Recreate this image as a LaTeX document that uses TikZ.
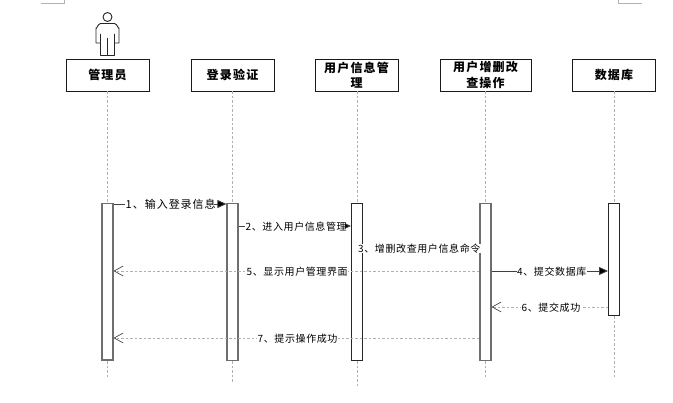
\documentclass[tikz,border=0pt]{standalone}
\usepackage{fontspec}
\setmainfont{Noto Sans CJK SC}[LetterSpace=6]
\usetikzlibrary{arrows.meta}
\definecolor{lifeclr}{HTML}{B0B0B0}
\definecolor{boxclr}{HTML}{1A1A1A}
\definecolor{actgrey}{HTML}{6E6E6E}
\tikzset{
  x=1pt,y=-1pt,
  headbox/.style={draw=boxclr,line width=.9pt,fill=white,minimum width=83pt,minimum height=32pt,inner sep=0pt,align=center,font=\fontsize{12}{15.5}\selectfont\bfseries\addfontfeature{LetterSpace=10}},
  actbox/.style={draw=actgrey,line width=1.2pt,fill=white,minimum width=11pt,inner sep=0pt},
  actdark/.style={actbox,draw=black!85,line width=1pt},
  lifeline/.style={draw=lifeclr,line width=.7pt,dash pattern=on 2.5pt off 2pt},
  syncmsg/.style={draw=black!75,line width=.8pt,-{Triangle[length=9pt,width=8pt,fill=black]}},
  retmsg/.style={draw=lifeclr,line width=.8pt,dash pattern=on 2.5pt off 2pt,-{Straight Barb[length=9pt,width=10pt,black!80,line width=.6pt]}},
  msglabel/.style={fill=white,inner xsep=.5pt,inner ysep=0pt,font=\fontsize{10}{12}\selectfont,text=black},
  pagemark/.style={draw=black!30,line width=.7pt},
  actorline/.style={draw=black!85,line width=.9pt,line join=round},
}
\begin{document}
\begin{tikzpicture}
\useasboundingbox (0,0) rectangle (673,403);
% page corner marks
\draw[pagemark] (41,3.5) -- (64.5,3.5) -- (64.5,0);
\draw[pagemark] (618.5,0) -- (618.5,3.5) -- (642,3.5);
% header boxes
\node[headbox] (hA) at (107.5,75) {管理员};
\node[headbox] (hB) at (232.5,75) {登录验证};
\node[headbox] (hC) at (356.5,75) {用户信息管\\理};
\node[headbox,minimum width=91pt] (hD) at (485.5,75) {用户增删改\\查操作};
\node[headbox] (hE) at (614,75) {数据库};
% lifeline ends
\coordinate (endA) at (107.5,377);
\coordinate (endB) at (232.5,382);
\coordinate (endC) at (357.5,387);
\coordinate (endD) at (485.5,377);
\coordinate (endE) at (614.5,378);
\draw[lifeline] (hA.south -| endA) -- (endA);
\draw[lifeline] (hB.south -| endB) -- (endB);
\draw[lifeline] (hC.south -| endC) -- (endC);
\draw[lifeline] (hD.south -| endD) -- (endD);
\draw[lifeline] (hE.south -| endE) -- (endE);
% message heights
\coordinate (y1) at (0,204);
\coordinate (y2) at (0,226);
\coordinate (y4) at (0,271);
\coordinate (y6) at (0,307);
\coordinate (y7) at (0,338);
% activation bars
\node[actbox,minimum height=156.5pt] (aA) at (107.5,281.75) {};
\node[actbox,minimum height=157pt] (aB) at (232.5,282) {};
\node[actdark,minimum height=157pt] (aC) at (357,282) {};
\node[actbox,minimum height=157pt] (aD) at (485.5,282) {};
\node[actdark,minimum height=112pt] (aE) at (614,259.5) {};
% messages
\draw[syncmsg] (aA.east |- y1) -- (aB.west |- y1);
\draw[syncmsg] (aB.east |- y2) -- (aC.west |- y2);
\draw[syncmsg] (aD.east |- y4) -- (aE.west |- y4);
\draw[retmsg] (aD.west |- y4) -- (aA.east |- y4);
\draw[retmsg] (aE.west |- y6) -- (aD.east |- y6);
\draw[retmsg] (aD.west |- y7) -- (aA.east |- y7);
% labels
\node[msglabel,anchor=west,font=\fontsize{11}{12}\selectfont\addfontfeature{LetterSpace=9}] (m1) at (125,204) {1、输入登录信息\kern-2.5pt};
\node[msglabel,anchor=west] (m2) at (245,226.5) {2、进入用户信息管理\kern-2.5pt};
\node[msglabel,anchor=west] (m3) at (357.5,248.5) {3、增删改查用户信息命令};
\node[msglabel,anchor=west] (m4) at (516.5,271.5) {4、提交数据库};
\node[msglabel,anchor=west] (m5) at (246,271.5) {5、显示用户管理界面};
\node[msglabel,anchor=west] (m6) at (521,307.5) {6、提交成功};
\node[msglabel,anchor=west] (m7) at (257,338.5) {7、提示操作成功};
% actor
\draw[actorline] (107.5,17) circle (4.5);
\draw[actorline,fill=white]
  (100.5,23.5) -- (114.5,23.5) to[out=0,in=-90] (119,28) -- (119,43) -- (114.5,43) -- (114.5,34)
  (114.5,43) -- (114.5,55.5) -- (100.5,55.5) -- (100.5,34)
  (100.5,43) -- (96,43) -- (96,28) to[out=-90,in=180] (100.5,23.5);
\draw[actorline] (107.5,38) -- (107.5,55.5);
\end{tikzpicture}
\end{document}
